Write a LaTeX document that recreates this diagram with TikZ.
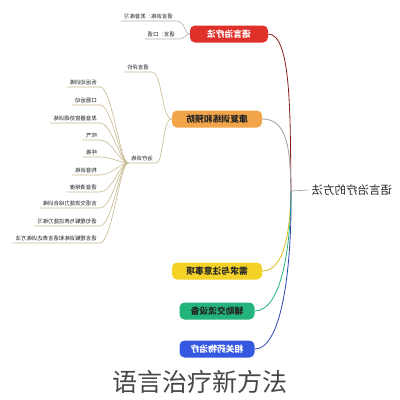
\documentclass[tikz,border=0pt]{standalone}
\usepackage{fontspec}
\usepackage{graphicx}
\newfontfamily\cjk{Noto Sans CJK SC}
\newcommand{\mir}[1]{\reflectbox{#1}}
\definecolor{cred}{HTML}{E0302A}
\definecolor{corange}{HTML}{F2A448}
\definecolor{cyellow}{HTML}{F4D228}
\definecolor{cgreen}{HTML}{22B47A}
\definecolor{cblue}{HTML}{3558E0}
\definecolor{twigc}{HTML}{C9B990}
\begin{document}
\begin{tikzpicture}[x=1pt,y=-1pt,
  mainbox/.style={rounded corners=5pt, minimum height=17pt, inner sep=2pt,
    font=\cjk\bfseries\fontsize{8.8}{9}\selectfont},
  leaf/.style={anchor=south east, inner xsep=3pt, inner ysep=1.5pt,
    font=\cjk\fontsize{5.4}{6}\selectfont, text=black!90},
  twig/.style={draw=twigc, line width=0.6pt},
  branch/.style={line width=0.8pt}]
\useasboundingbox (0,0) rectangle (400,400);
\fill[white] (0,0) rectangle (400,400);

% root
\node[font=\cjk\fontsize{11.5}{12}\selectfont, text=black!85, anchor=west] (root) at (308,190) {\mir{语言治疗的方法}};
\coordinate (hub) at (291,191);
\draw[draw=gray!70, line width=0.7pt] (hub) -- (root.west);

% main topics
\node[mainbox, fill=cred, text=white, minimum width=78pt] (red) at (229,34) {\mir{语言治疗法}};
\node[mainbox, fill=corange, text=black!85, minimum width=90pt] (orange) at (217,119) {\mir{康复训练和预防}};
\node[mainbox, fill=cyellow, text=black!85, minimum width=90pt] (yellow) at (217,271) {\mir{需求与注意事项}};
\node[mainbox, fill=cgreen, text=black!85, minimum width=75pt] (green) at (217,311) {\mir{辅助交流设备}};
\node[mainbox, fill=cblue, text=white, minimum width=75pt] (blue) at (217,349) {\mir{相关药物治疗}};

\draw[branch, draw=cred!60!black] (red.east) .. controls (292,34) and (290,120) .. (hub);
\draw[branch, draw=gray!75] (orange.east) .. controls (288,119) and (290,150) .. (hub);
\draw[branch, draw=cyellow!90!black] (yellow.east) .. controls (285,271) and (290,230) .. (hub);
\draw[branch, draw=cgreen] (green.east) .. controls (283,311) and (291,240) .. (hub);
\draw[branch, draw=cblue!80!black] (blue.east) .. controls (285,349) and (292,250) .. (hub);

% red children
\node[leaf] (r1) at (176,21) {\mir{语言训练：发音练习}};
\node[leaf] (r2) at (178,39) {\mir{语言：口语}};
\draw[twig, draw=gray!60] (r1.south west) -- (r1.south east) .. controls +(10,0) and +(-6,0) .. (red.west);
\draw[twig, draw=gray!60] (r2.south west) -- (r2.south east) .. controls +(8,0) and +(-5,0) .. (red.west);

% orange children
\node[leaf] (t1) at (152,72) {\mir{语言评价}};
\node[leaf] (t2) at (156,163) {\mir{治疗训练}};
\draw[twig] (t1.south west) -- (t1.south east) .. controls +(10,0) and +(-10,0) .. (orange.west);
\draw[twig] (t2.south west) -- (t2.south east) .. controls +(8,0) and +(-10,0) .. (orange.west);

% training items
\node[leaf] (i1) at (100,87) {\mir{舌运动训练}};
\node[leaf] (i2) at (100,105) {\mir{口唇运动}};
\node[leaf] (i3) at (100,123) {\mir{发音器官协调训练}};
\node[leaf] (i4) at (100,140) {\mir{吹气}};
\node[leaf] (i5) at (100,157) {\mir{呼吸}};
\node[leaf] (i6) at (100,175) {\mir{构音训练}};
\node[leaf] (i7) at (100,192) {\mir{语音清晰度}};
\node[leaf] (i8) at (100,208) {\mir{言语交流能力综合训练}};
\node[leaf] (i9) at (100,226) {\mir{语句理解与表达能力练习}};
\node[leaf] (i10) at (100,243) {\mir{语言理解训练和语言表达训练方法}};
\foreach \i in {1,...,10}{
  \draw[twig] (i\i.south west) -- (i\i.south east) .. controls +(12,0) and +(-8,0) .. (t2.south west);
}

% caption
\node[font=\cjk\fontsize{25}{26}\selectfont, text=black!72] (cap) at (200,382) {语言治疗新方法};
\end{tikzpicture}
\end{document}
